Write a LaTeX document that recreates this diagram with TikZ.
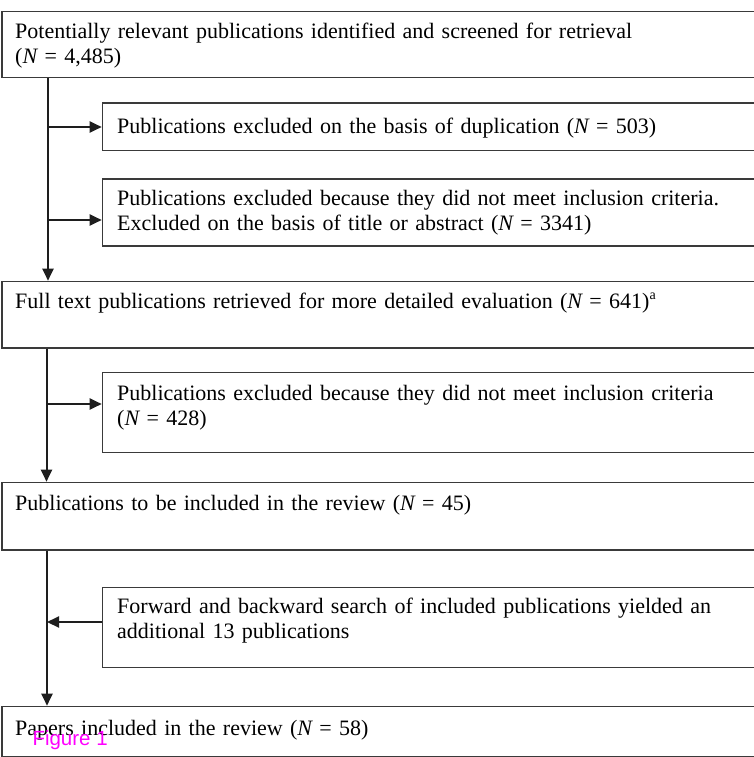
\documentclass[tikz,border=0pt]{standalone}
\usepackage{fontspec}
\setmainfont{Liberation Serif}[WordSpace=0.75]
\newfontfamily\figfont{Liberation Sans}
\usetikzlibrary{arrows.meta}
\definecolor{boxline}{HTML}{3A3A3A}
\definecolor{arrowline}{HTML}{1E1E1E}
\definecolor{figmagenta}{HTML}{FF00FF}
\begin{document}
\begin{tikzpicture}[x=1pt,y=-1pt,
  bigbox/.style={draw=boxline,line width=1.5pt,rectangle,anchor=north west,inner sep=0pt,minimum width=800pt},
  smallbox/.style={draw=boxline,line width=1.5pt,rectangle,anchor=north west,inner sep=0pt,minimum width=700pt},
  txt/.style={anchor=base west,inner sep=0pt,text width=700pt,align=left,font=\fontsize{22}{25}\selectfont},
  flow/.style={draw=arrowline,line width=2pt},
  arr/.style={flow,-{Triangle[length=12pt,width=11pt]}}
]
\useasboundingbox (0,0) rectangle (754,757);
\clip (0,0) rectangle (754,757);
\fill[white] (0,0) rectangle (754,757);

% boxes
\node[bigbox,minimum height=66pt] (b1) at (1,11) {};
\node[smallbox,minimum height=47pt] (b2) at (101.7,102.5) {};
\node[smallbox,minimum height=67pt] (b3) at (101.7,178) {};
\node[bigbox,minimum height=66.3pt] (b4) at (1,280.7) {};
\node[smallbox,minimum height=80pt] (b5) at (101.7,371.7) {};
\node[bigbox,minimum height=67.3pt] (b6) at (1,481.7) {};
\node[smallbox,minimum height=80pt] (b7) at (101.7,586.7) {};
\node[bigbox,minimum height=50pt] (b8) at (1,705.7) {};

% texts
\node[txt] (t1) at (15,39) {Potentially relevant publications identified and screened for retrieval\\({\itshape N} = 4,485)};
\node[txt] (t2) at (117,133) {Publications excluded on the basis of duplication ({\itshape N} = 503)};
\node[txt] (t3) at (117,205) {Publications excluded because they did not meet inclusion criteria.\\Excluded on the basis of title or abstract ({\itshape N} = 3341)};
\node[txt] (t4) at (15,308) {Full text publications retrieved for more detailed evaluation ({\itshape N} = 641)\raisebox{9pt}{\fontsize{14}{14}\selectfont a}};
\node[txt] (t5) at (117,400) {Publications excluded because they did not meet inclusion criteria\\({\itshape N} = 428)};
\node[txt] (t6) at (15,510) {Publications to be included in the review ({\itshape N} = 45)};
\node[txt] (t7) at (117,613) {Forward and backward search of included publications yielded an\\additional 13 publications};
\node[txt] (t8) at (15,735) {Papers included in the review ({\itshape N} = 58)};
\node[anchor=base west,inner sep=0pt,text=figmagenta,font=\figfont\fontsize{20.5}{21}\selectfont] (fig) at (32.3,745.7) {Figure 1};

% trunk coordinates
\coordinate (s1) at (48,0);
\coordinate (s2) at (46.5,0);
\coordinate (s3) at (47,0);
\coordinate (j2) at (48,127);
\coordinate (j3) at (48,220);
\coordinate (j5) at (46.5,404);
\coordinate (j7) at (47,622);

% connectors
\draw[arr] (b1.south -| s1) -- (b4.north -| s1);
\draw[arr] (j2) -- (b2.west |- j2);
\draw[arr] (j3) -- (b3.west |- j3);
\draw[arr] (b4.south -| s2) -- (b6.north -| s2);
\draw[arr] (j5) -- (b5.west |- j5);
\draw[arr] (b6.south -| s3) -- (b8.north -| s3);
\draw[arr] (b7.west |- j7) -- (j7);
\end{tikzpicture}
\end{document}
